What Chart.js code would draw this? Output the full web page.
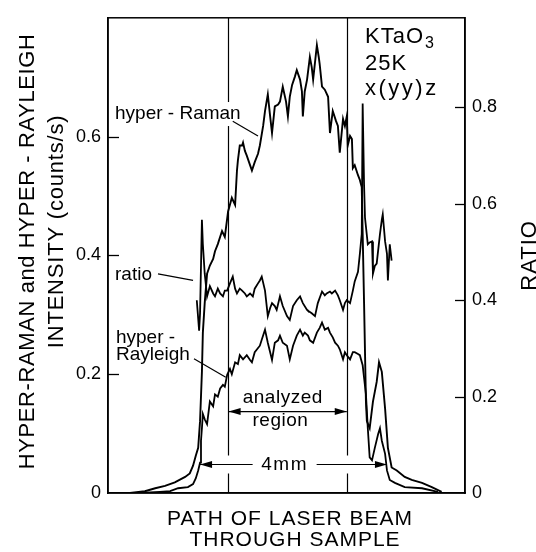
<!DOCTYPE html>
<html>
<head>
<meta charset="utf-8">
<script src="https://cdn.jsdelivr.net/npm/chart.js@4.4.1/dist/chart.umd.min.js"></script>
<style>
html,body{margin:0;padding:0;background:#fff;}
#wrap{width:536px;height:552px;position:relative;}
</style>
</head>
<body>
<div id="wrap"><canvas id="c" width="536" height="552"></canvas></div>
<script>
// ---- data (position along the beam in mm; intensities in counts/s; ratio dimensionless)
const hyperRamanPos = [0.15,0.47,0.79,1.01,1.22,1.43,1.65,1.75,1.82,1.88,1.93,1.97,2.01,2.03,2.07,2.12,2.18,2.25,2.29,2.35,2.44,2.50,2.57,2.65,2.72,2.76,2.78,2.82,2.87,2.89,2.93,2.97,3.04,3.08,3.14,3.21,3.25,3.32,3.36,3.42,3.47,3.51,3.57,3.64,3.68,3.74,3.81,3.85,3.89,3.94,4.00,4.04,4.11,4.15,4.17,4.21,4.26,4.32,4.36,4.39,4.43,4.47,4.51,4.53,4.58,4.64,4.71,4.75,4.81,4.88,4.92,4.96,5.03,5.07,5.11,5.13,5.18,5.22,5.24,5.28,5.35,5.39,5.43,5.48,5.52,5.54,5.60,5.67,5.75,5.80,5.86,5.93,5.99,6.07,6.18,6.35,6.50,6.72,6.93,7.14];
const hyperRamanIntensity = [0,0,0.003,0.008,0.012,0.018,0.027,0.033,0.046,0.063,0.076,0.121,0.204,0.270,0.320,0.369,0.383,0.394,0.407,0.419,0.441,0.431,0.474,0.497,0.485,0.543,0.560,0.585,0.585,0.590,0.576,0.568,0.552,0.543,0.557,0.571,0.585,0.618,0.643,0.671,0.634,0.606,0.651,0.654,0.659,0.684,0.659,0.634,0.667,0.687,0.701,0.712,0.696,0.676,0.634,0.676,0.696,0.734,0.717,0.696,0.725,0.754,0.734,0.722,0.684,0.679,0.667,0.606,0.643,0.626,0.618,0.573,0.630,0.618,0.634,0.585,0.601,0.596,0.547,0.552,0.535,0.527,0.515,0.320,0.154,0.121,0.109,0.154,0.187,0.220,0.204,0.142,0.076,0.043,0.038,0.027,0.022,0.017,0.010,0.002];

const hyperRayleighPos = [0.15,0.68,1.11,1.33,1.50,1.71,1.82,1.88,1.93,1.97,1.99,2.01,2.03,2.07,2.12,2.18,2.25,2.29,2.35,2.40,2.46,2.50,2.55,2.61,2.65,2.72,2.78,2.82,2.89,2.97,3.04,3.08,3.14,3.19,3.25,3.29,3.36,3.42,3.47,3.51,3.57,3.64,3.68,3.74,3.83,3.89,3.96,4.04,4.11,4.17,4.21,4.28,4.32,4.39,4.47,4.53,4.58,4.64,4.71,4.75,4.81,4.86,4.92,4.96,5.03,5.07,5.11,5.18,5.24,5.28,5.35,5.39,5.45,5.52,5.56,5.60,5.65,5.71,5.78,5.82,5.86,5.93,5.97,6.03,6.14,6.35,6.72,7.06];
const hyperRayleighIntensity = [0,0,0.002,0.003,0.008,0.010,0.015,0.025,0.038,0.051,0.088,0.109,0.133,0.124,0.116,0.154,0.146,0.166,0.162,0.176,0.182,0.179,0.199,0.209,0.200,0.220,0.217,0.232,0.225,0.232,0.224,0.220,0.237,0.242,0.248,0.258,0.275,0.253,0.237,0.224,0.253,0.257,0.265,0.253,0.248,0.225,0.248,0.265,0.275,0.265,0.270,0.265,0.257,0.253,0.270,0.278,0.287,0.275,0.278,0.270,0.262,0.253,0.248,0.242,0.225,0.237,0.232,0.225,0.237,0.237,0.234,0.232,0.215,0.166,0.109,0.060,0.055,0.076,0.099,0.109,0.088,0.066,0.038,0.022,0.017,0.010,0.008,0.002];

const ratioPos = [1.90,1.95,1.97,2.01,2.03,2.07,2.12,2.18,2.25,2.29,2.35,2.40,2.46,2.50,2.55,2.61,2.67,2.72,2.76,2.82,2.87,2.93,2.97,3.04,3.10,3.14,3.21,3.25,3.29,3.36,3.42,3.47,3.51,3.57,3.61,3.68,3.74,3.83,3.89,3.96,4.04,4.11,4.17,4.26,4.28,4.36,4.43,4.49,4.58,4.64,4.68,4.75,4.79,4.86,4.92,4.96,5.03,5.07,5.11,5.18,5.24,5.28,5.35,5.39,5.43,5.45,5.48,5.50,5.56,5.60,5.65,5.67,5.71,5.75,5.82,5.86,5.88,5.93,5.97,5.99,6.03,6.07];
const ratioValue = [0.400,0.337,0.373,0.567,0.516,0.455,0.408,0.429,0.414,0.408,0.424,0.414,0.408,0.420,0.420,0.435,0.449,0.424,0.414,0.424,0.420,0.414,0.408,0.414,0.408,0.424,0.435,0.441,0.449,0.420,0.367,0.384,0.394,0.388,0.380,0.408,0.388,0.367,0.359,0.388,0.400,0.408,0.394,0.380,0.378,0.373,0.367,0.394,0.418,0.410,0.414,0.418,0.414,0.420,0.410,0.400,0.380,0.394,0.400,0.394,0.420,0.439,0.459,0.496,0.537,0.808,0.639,0.571,0.516,0.520,0.522,0.455,0.471,0.476,0.537,0.567,0.578,0.522,0.496,0.441,0.516,0.482];

const intensityTicks = [0, 0.2, 0.4, 0.6];
const ratioTicks = [0, 0.2, 0.4, 0.6, 0.8];
const analyzedRegion = [2.56, 5.11];   // mm, the two vertical lines
const beamWidth = [1.97, 5.97];        // mm, the "4mm" arrow

// ---- layout / style settings (not data)
const FONT = '"Liberation Sans", Arial, sans-serif';
const positionRange = [0, 7.64];
const intensityRange = [0, 0.8];
const ratioRange = [0, 0.986];

const pts = (xs, ys) => xs.map((v, i) => ({x: v, y: ys[i]}));

function arrowHead(ctx, tx, ty, dir) {
  ctx.beginPath();
  ctx.moveTo(tx, ty);
  ctx.lineTo(tx - dir * 12, ty - 3.5);
  ctx.lineTo(tx - dir * 12, ty + 3.5);
  ctx.closePath();
  ctx.fill();
}

function txt(ctx, s, x, y, size, align, spacing) {
  ctx.font = size + 'px ' + FONT;
  ctx.textAlign = align || 'left';
  ctx.textBaseline = 'middle';
  ctx.letterSpacing = (spacing || 0) + 'px';
  ctx.fillText(s, x, y);
  ctx.letterSpacing = '0px';
}

const annotations = {
  id: 'annotations',
  beforeDatasetsDraw(chart) {
    const {ctx, chartArea: a, scales: {x, y}} = chart;
    ctx.save();
    ctx.fillStyle = '#000';
    ctx.strokeStyle = '#000';
    // vertical lines bounding the analyzed region
    const beamY = y.getPixelForValue(0.048);
    ctx.lineWidth = 1.2;
    analyzedRegion.forEach(v => {
      const px = Math.round(x.getPixelForValue(v)) + 0.5;
      ctx.beginPath();
      ctx.moveTo(px, a.top); ctx.lineTo(px, beamY - 9);
      ctx.moveTo(px, beamY + 9); ctx.lineTo(px, a.bottom);
      ctx.stroke();
    });
    // hyper-Raman label (white background hides the line behind it)
    const hx = x.getPixelForValue(0.15), hy = y.getPixelForValue(0.638);
    ctx.font = '19px ' + FONT;
    const hw = ctx.measureText('hyper - Raman').width;
    ctx.fillStyle = '#fff';
    ctx.fillRect(hx - 2, hy - 12, hw + 6, 24);
    ctx.fillStyle = '#000';
    txt(ctx, 'hyper - Raman', hx, hy, 19, 'left');
    ctx.lineWidth = 1.2;
    ctx.beginPath();
    ctx.moveTo(x.getPixelForValue(2.67), y.getPixelForValue(0.626));
    ctx.lineTo(x.getPixelForValue(3.21), y.getPixelForValue(0.601));
    ctx.stroke();
    // ratio label
    txt(ctx, 'ratio', x.getPixelForValue(0.15), y.getPixelForValue(0.368), 19, 'left');
    ctx.beginPath();
    ctx.moveTo(x.getPixelForValue(1.07), y.getPixelForValue(0.369));
    ctx.lineTo(x.getPixelForValue(1.82), y.getPixelForValue(0.358));
    ctx.stroke();
    // hyper-Rayleigh label
    txt(ctx, 'hyper -', x.getPixelForValue(0.17), y.getPixelForValue(0.262), 19, 'left');
    txt(ctx, 'Rayleigh', x.getPixelForValue(0.17), y.getPixelForValue(0.232), 19, 'left');
    ctx.beginPath();
    ctx.moveTo(x.getPixelForValue(1.84), y.getPixelForValue(0.226));
    ctx.lineTo(x.getPixelForValue(2.52), y.getPixelForValue(0.195));
    ctx.stroke();
    // analyzed region arrow
    const ay = y.getPixelForValue(0.137);
    const ax1 = x.getPixelForValue(analyzedRegion[0]) + 1, ax2 = x.getPixelForValue(analyzedRegion[1]);
    ctx.beginPath(); ctx.moveTo(ax1, ay); ctx.lineTo(ax2, ay); ctx.stroke();
    arrowHead(ctx, ax1, ay, -1); arrowHead(ctx, ax2, ay, 1);
    txt(ctx, 'analyzed', x.getPixelForValue(3.74), y.getPixelForValue(0.160), 19, 'center', 0.5);
    txt(ctx, 'region', x.getPixelForValue(3.69), y.getPixelForValue(0.121), 19, 'center', 0.5);
    // 4 mm arrow
    const bx1 = x.getPixelForValue(beamWidth[0]), bx2 = x.getPixelForValue(beamWidth[1]);
    const bc = x.getPixelForValue(3.78);
    ctx.beginPath();
    ctx.moveTo(bx1, beamY); ctx.lineTo(bc - 32, beamY);
    ctx.moveTo(bc + 32, beamY); ctx.lineTo(bx2, beamY);
    ctx.stroke();
    arrowHead(ctx, bx1, beamY, -1); arrowHead(ctx, bx2, beamY, 1);
    txt(ctx, '4mm', bc, beamY, 19, 'center', 1.5);
    // sample / temperature / geometry
    const kx = x.getPixelForValue(5.50);
    const ky = y.getPixelForValue(0.767);
    ctx.font = '22px ' + FONT;
    ctx.letterSpacing = '1px';
    const kw = ctx.measureText('KTaO').width;
    ctx.letterSpacing = '0px';
    txt(ctx, 'KTaO', kx, ky, 22, 'left', 1);
    txt(ctx, '3', kx + kw + 1, ky + 6, 16, 'left');
    txt(ctx, '25K', kx, y.getPixelForValue(0.722), 22, 'left', 1);
    txt(ctx, 'x(yy)z', kx, y.getPixelForValue(0.681), 22, 'left', 2.5);
    ctx.restore();
  },
  afterDraw(chart) {
    const {ctx, chartArea: a, scales: {x, y, y2}} = chart;
    ctx.save();
    ctx.strokeStyle = '#000';
    ctx.fillStyle = '#000';
    ctx.lineWidth = 1.5;
    ctx.strokeRect(a.left, a.top, a.right - a.left, a.bottom - a.top);
    // inward tick marks
    ctx.lineWidth = 1.3;
    intensityTicks.filter(v => v > 0).forEach(v => {
      const py = Math.round(y.getPixelForValue(v)) + 0.5;
      ctx.beginPath(); ctx.moveTo(a.left, py); ctx.lineTo(a.left + 11, py); ctx.stroke();
    });
    ratioTicks.filter(v => v > 0).forEach(v => {
      const py = Math.round(y2.getPixelForValue(v)) + 0.5;
      ctx.beginPath(); ctx.moveTo(a.right - 10, py); ctx.lineTo(a.right, py); ctx.stroke();
    });
    // axis titles
    const cy = (a.top + a.bottom) / 2;
    ctx.save();
    ctx.translate(28, cy - 4);
    ctx.rotate(-Math.PI / 2);
    txt(ctx, 'HYPER-RAMAN and HYPER - RAYLEIGH', 0, 0, 22, 'center', 0.6);
    ctx.restore();
    ctx.save();
    ctx.translate(57, cy - 24);
    ctx.rotate(-Math.PI / 2);
    txt(ctx, 'INTENSITY (counts/s)', 0, 0, 22, 'center', 0.8);
    ctx.restore();
    ctx.save();
    ctx.translate(530, cy);
    ctx.rotate(-Math.PI / 2);
    txt(ctx, 'RATIO', 0, 0, 22, 'center', 1);
    ctx.restore();
    txt(ctx, 'PATH OF LASER BEAM', 290, 519, 21, 'center', 1);
    txt(ctx, 'THROUGH SAMPLE', 295, 540, 21, 'center', 1);
    ctx.restore();
  }
};

Chart.defaults.font.family = FONT;
Chart.defaults.color = '#000';

new Chart(document.getElementById('c'), {
  type: 'line',
  data: {
    datasets: [
      {label: 'hyper-Raman', data: pts(hyperRamanPos, hyperRamanIntensity), yAxisID: 'y',
       borderColor: '#000', borderWidth: 1.9, pointRadius: 0, tension: 0, fill: false},
      {label: 'hyper-Rayleigh', data: pts(hyperRayleighPos, hyperRayleighIntensity), yAxisID: 'y',
       borderColor: '#000', borderWidth: 1.8, pointRadius: 0, tension: 0, fill: false},
      {label: 'ratio', data: pts(ratioPos, ratioValue), yAxisID: 'y2',
       borderColor: '#000', borderWidth: 1.8, pointRadius: 0, tension: 0, fill: false}
    ]
  },
  options: {
    responsive: false,
    animation: false,
    devicePixelRatio: 1,
    layout: {padding: {top: 10, left: 0, right: 0, bottom: 0}},
    plugins: {legend: {display: false}, tooltip: {enabled: false}},
    scales: {
      x: {
        type: 'linear', min: positionRange[0], max: positionRange[1],
        grid: {display: false, drawTicks: false},
        border: {display: true, color: '#000', width: 1.5},
        ticks: {display: false},
        afterFit(s) { s.height = 59; }
      },
      y: {
        position: 'left', min: intensityRange[0], max: intensityRange[1],
        grid: {display: false, drawTicks: false},
        border: {display: true, color: '#000', width: 1.5},
        afterBuildTicks(s) { s.ticks = intensityTicks.map(v => ({value: v})); },
        ticks: {font: {size: 18}, padding: 7, color: '#000',
                callback: v => v === 0 ? '0' : v.toFixed(1)},
        afterFit(s) { s.width = 108; }
      },
      y2: {
        position: 'right', min: ratioRange[0], max: ratioRange[1],
        grid: {display: false, drawTicks: false},
        border: {display: true, color: '#000', width: 1.5},
        afterBuildTicks(s) { s.ticks = ratioTicks.map(v => ({value: v})); },
        ticks: {font: {size: 18}, padding: 7, color: '#000',
                callback: v => v === 0 ? '0' : v.toFixed(1)},
        afterFit(s) { s.width = 71; }
      }
    }
  },
  plugins: [annotations]
});
</script>
</body>
</html>
